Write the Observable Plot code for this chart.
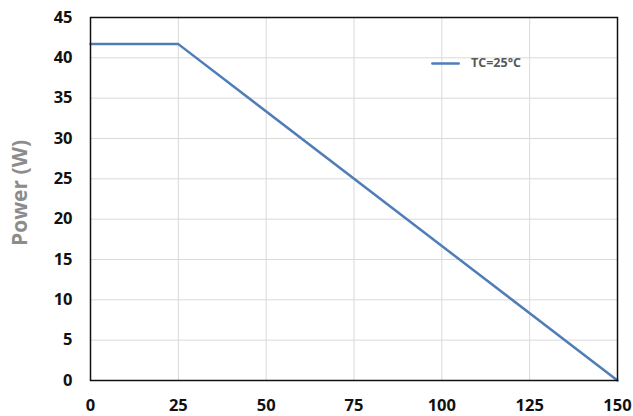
<!DOCTYPE html>
<html>
<head>
<meta charset="utf-8">
<script src="https://cdn.jsdelivr.net/npm/d3@7"></script>
<script src="https://cdn.jsdelivr.net/npm/@observablehq/plot@0.6"></script>
<style>
  html, body { margin: 0; padding: 0; background: #fff; }
  #chart { width: 633px; height: 416px; }
</style>
</head>
<body>
<div id="chart"></div>
<script>
// Power derating curve: case temperature (°C) vs. allowed power (W)
const temperature = [0, 25, 150];
const power = [41.7, 41.7, 0];
const seriesName = "TC=25°C";
const xTicks = [0, 25, 50, 75, 100, 125, 150];
const yTicks = [0, 5, 10, 15, 20, 25, 30, 35, 40, 45];

const rows = temperature.map((t, i) => ({t, p: power[i]}));
const lineColor = "#4f7db8";
const font = "'Open Sans', 'Liberation Sans', sans-serif";

const chart = Plot.plot({
  width: 633,
  height: 416,
  marginLeft: 90,
  marginRight: 16,
  marginTop: 17,
  marginBottom: 36,
  style: {fontFamily: font, background: "#fff"},
  x: {domain: [0, 150], ticks: xTicks, label: null},
  y: {domain: [0, 45], ticks: yTicks, label: null},
  marks: [
    Plot.gridX(xTicks, {stroke: "#d9d9d9", strokeOpacity: 1, strokeWidth: 1}),
    Plot.gridY(yTicks, {stroke: "#d9d9d9", strokeOpacity: 1, strokeWidth: 1}),
    Plot.axisX(xTicks, {tickSize: 0, tickPadding: 19, fontSize: 16.5, fontWeight: "bold", fill: "#111"}),
    Plot.axisY(yTicks, {tickSize: 0, tickPadding: 18, fontSize: 16.5, fontWeight: "bold", fill: "#111"}),
    Plot.line(rows, {x: "t", y: "p", stroke: lineColor, strokeWidth: 2.5}),
    Plot.frame({stroke: "#111", strokeWidth: 1.5}),
    // legend entry inside the plot area
    Plot.line([{t: 97.3, p: 39.3}, {t: 104.8, p: 39.3}], {x: "t", y: "p", stroke: lineColor, strokeWidth: 2.5}),
    Plot.text([seriesName], {x: 108.3, y: 39.3, text: d => d, textAnchor: "start", fontSize: 12.5, fontWeight: "bold", fill: "#595959"}),
    // y-axis title
    Plot.text(["Power (W)"], {frameAnchor: "left", dx: -70, dy: -6, rotate: -90, textAnchor: "middle", text: d => d, fontSize: 21, fontWeight: "bold", fill: "#8c8c8c"})
  ]
});

document.getElementById("chart").appendChild(chart);
</script>
</body>
</html>
